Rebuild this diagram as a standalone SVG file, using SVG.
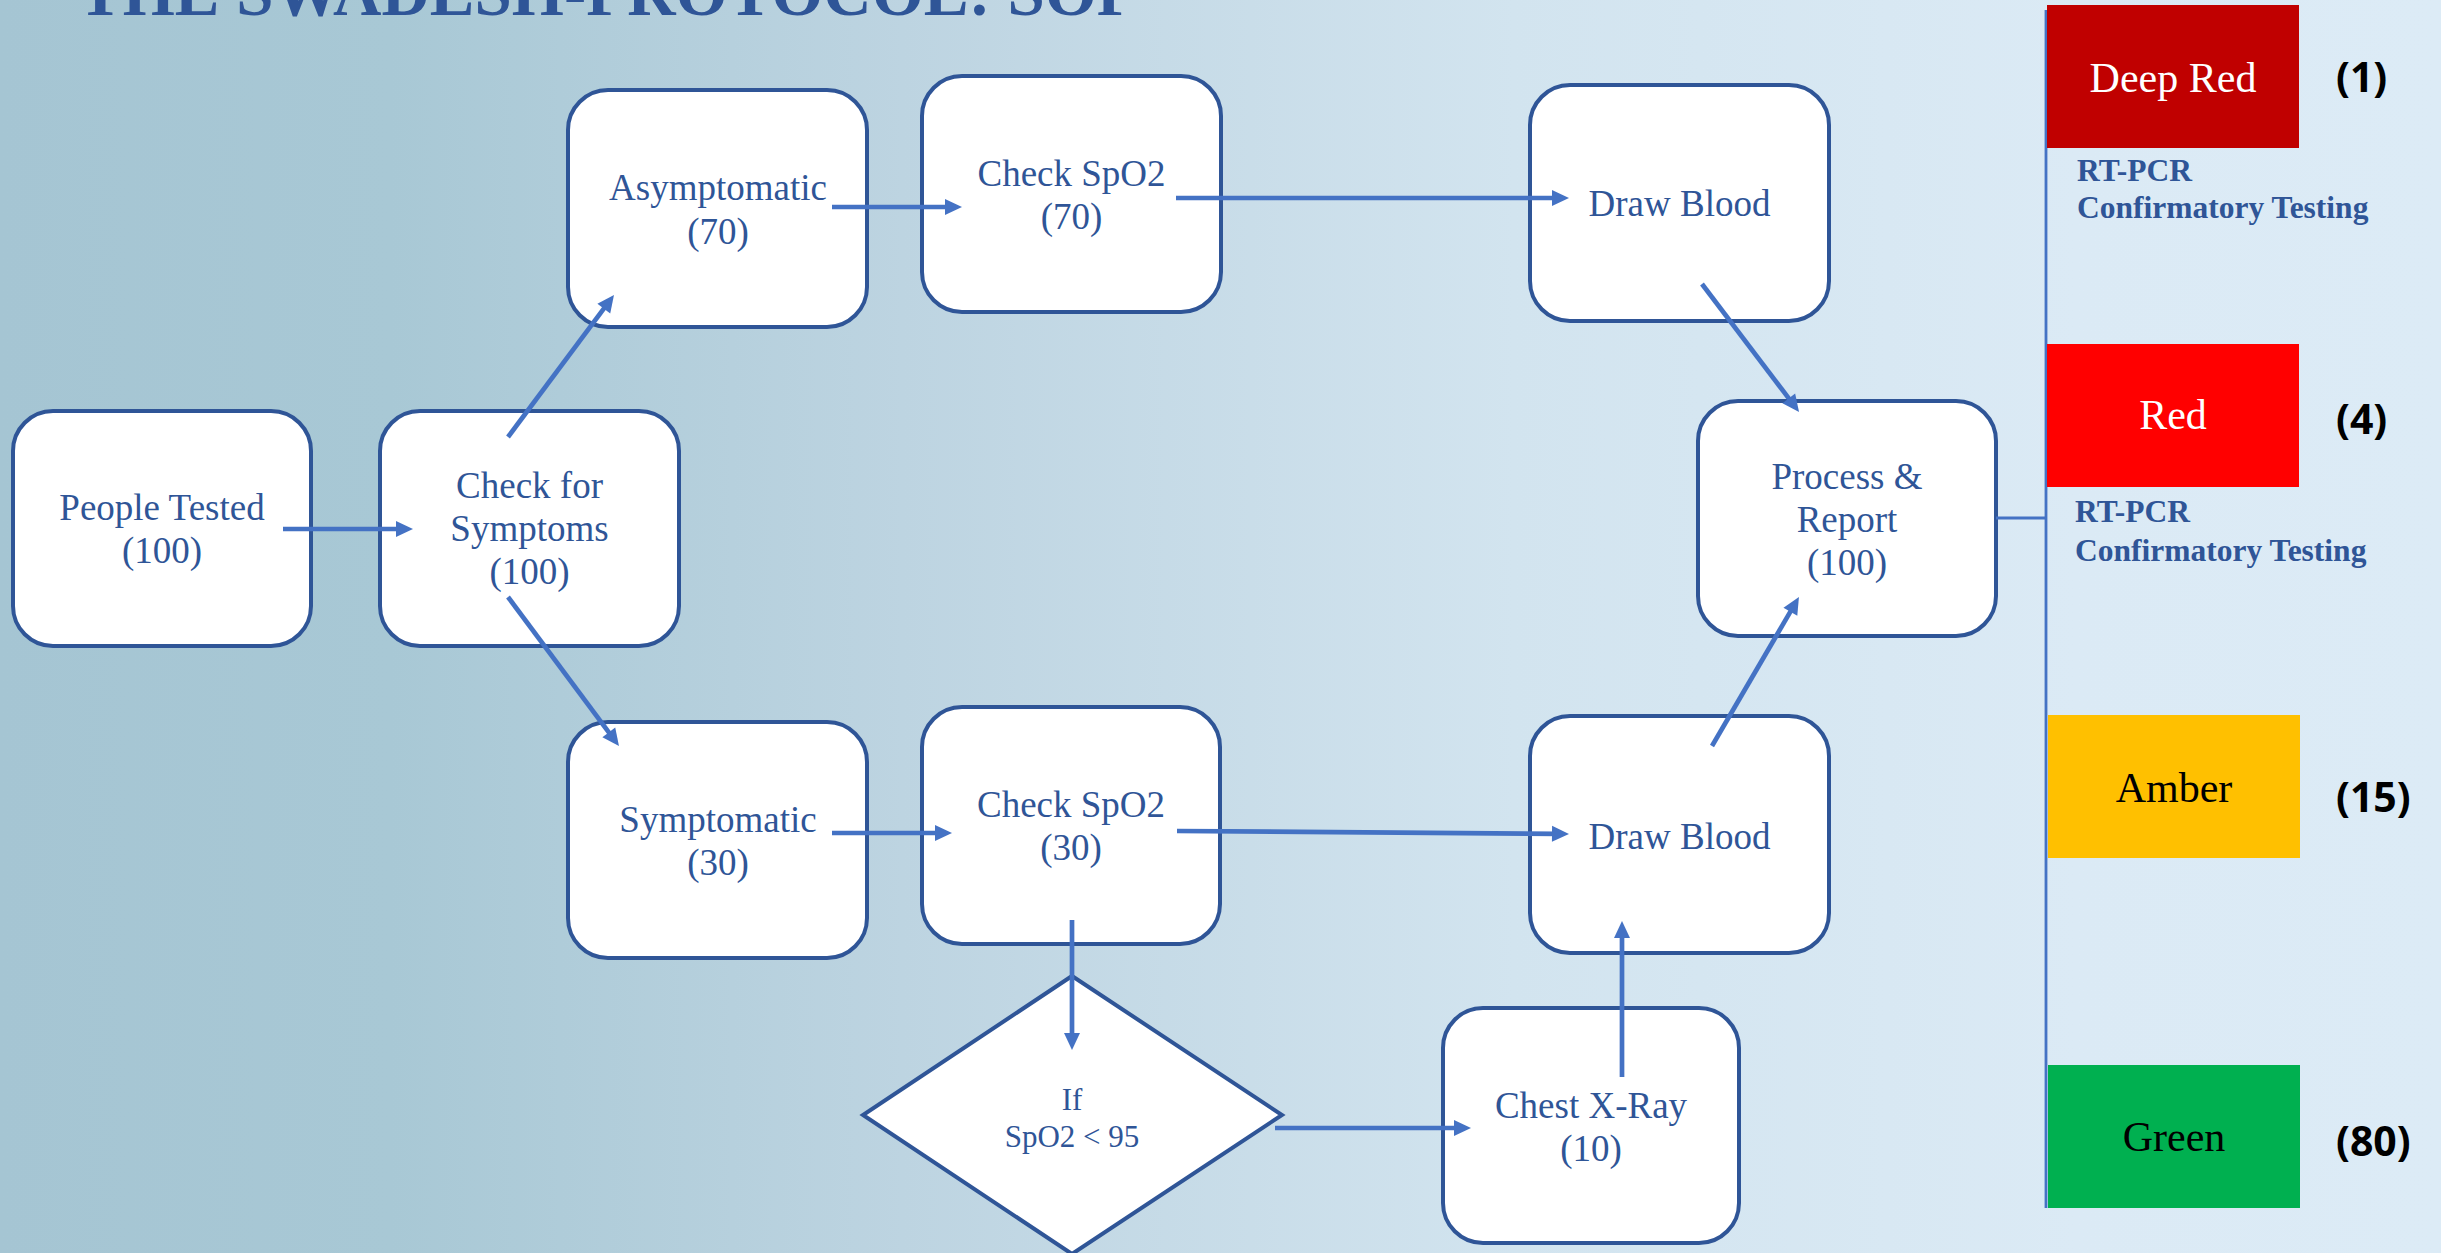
<svg xmlns="http://www.w3.org/2000/svg" width="2441" height="1253" viewBox="0 0 2441 1253">
  <defs>
    <linearGradient id="bg" x1="0" y1="0" x2="1" y2="0">
      <stop offset="0" stop-color="#a5c5d3"/>
      <stop offset="0.16" stop-color="#a8c8d5"/>
      <stop offset="0.37" stop-color="#bdd4e1"/>
      <stop offset="0.62" stop-color="#d2e4ef"/>
      <stop offset="0.85" stop-color="#dbeaf5"/>
      <stop offset="1" stop-color="#dcebf6"/>
    </linearGradient>
    <marker id="arr" markerUnits="userSpaceOnUse" markerWidth="18" markerHeight="16" refX="5" refY="8" orient="auto" overflow="visible">
      <path d="M0,0 L17,8 L0,16 Z" fill="#4472c4"/>
    </marker>
    <style>
      .box { fill: #ffffff; stroke: #2f5597; stroke-width: 4; }
      .lbl { font-family: "Liberation Serif", "Times New Roman", serif; font-size: 37px; fill: #2f5597; text-anchor: middle; }
      .dlbl { font-family: "Liberation Serif", "Times New Roman", serif; font-size: 31px; fill: #2f5597; text-anchor: middle; }
      .conn { stroke: #4472c4; stroke-width: 4.7; fill: none; marker-end: url(#arr); }
      .rail { stroke: #4472c4; stroke-width: 2.8; fill: none; }
      .sw { font-family: "Liberation Serif", "Times New Roman", serif; font-size: 42px; text-anchor: middle; }
      .cnt { font-family: "Open Sans", "Liberation Sans", sans-serif; font-size: 41px; font-weight: bold; fill: #000000; }
      .rt { font-family: "Liberation Serif", "Times New Roman", serif; font-size: 31.5px; font-weight: bold; fill: #2f5597; }
    </style>
  </defs>

  <rect x="0" y="0" width="2441" height="1253" fill="url(#bg)"/>

  <text x="78" y="15" font-family="Liberation Serif, Times New Roman, serif" font-size="67" font-weight="bold" fill="#2f5597">THE SWADESH-PROTOCOL: SOP</text>

  <g id="people-tested">
    <rect class="box" x="13" y="411" width="298" height="235" rx="40" ry="40"/>
    <text class="lbl" x="162" y="520">People Tested</text>
    <text class="lbl" x="162" y="563">(100)</text>
  </g>

  <g id="check-symptoms">
    <rect class="box" x="380" y="411" width="299" height="235" rx="40" ry="40"/>
    <text class="lbl" x="529.5" y="498">Check for</text>
    <text class="lbl" x="529.5" y="541">Symptoms</text>
    <text class="lbl" x="529.5" y="584">(100)</text>
  </g>

  <g id="asymptomatic">
    <rect class="box" x="568" y="90" width="299" height="237" rx="40" ry="40"/>
    <text class="lbl" x="718" y="200">Asymptomatic</text>
    <text class="lbl" x="718" y="244">(70)</text>
  </g>

  <g id="check-spo2-70">
    <rect class="box" x="922" y="76" width="299" height="236" rx="40" ry="40"/>
    <text class="lbl" x="1071.5" y="186">Check SpO2</text>
    <text class="lbl" x="1071.5" y="229">(70)</text>
  </g>

  <g id="draw-blood-top">
    <rect class="box" x="1530" y="85" width="299" height="236" rx="40" ry="40"/>
    <text class="lbl" x="1679.5" y="216">Draw Blood</text>
  </g>

  <g id="process-report">
    <rect class="box" x="1698" y="401" width="298" height="235" rx="40" ry="40"/>
    <text class="lbl" x="1847" y="489">Process &amp;</text>
    <text class="lbl" x="1847" y="532">Report</text>
    <text class="lbl" x="1847" y="575">(100)</text>
  </g>

  <g id="symptomatic">
    <rect class="box" x="568" y="722" width="299" height="236" rx="40" ry="40"/>
    <text class="lbl" x="718" y="832">Symptomatic</text>
    <text class="lbl" x="718" y="875">(30)</text>
  </g>

  <g id="check-spo2-30">
    <rect class="box" x="922" y="707" width="298" height="237" rx="40" ry="40"/>
    <text class="lbl" x="1071" y="817">Check SpO2</text>
    <text class="lbl" x="1071" y="860">(30)</text>
  </g>

  <g id="draw-blood-bottom">
    <rect class="box" x="1530" y="716" width="299" height="237" rx="40" ry="40"/>
    <text class="lbl" x="1679.5" y="849">Draw Blood</text>
  </g>

  <g id="spo2-decision">
    <polygon class="box" points="1072,976 1282,1115 1072,1254 863,1115"/>
    <text class="dlbl" x="1072" y="1110">If</text>
    <text class="dlbl" x="1072" y="1147">SpO2 &lt; 95</text>
  </g>

  <g id="chest-xray">
    <rect class="box" x="1443" y="1008" width="296" height="235" rx="40" ry="40"/>
    <text class="lbl" x="1591" y="1118">Chest X-Ray</text>
    <text class="lbl" x="1591" y="1161">(10)</text>
  </g>

  <g id="connectors">
    <line class="conn" x1="283" y1="529" x2="401" y2="529"/>
    <line class="conn" x1="508" y1="437" x2="606.8" y2="304.6"/>
    <line class="conn" x1="508" y1="597" x2="611.8" y2="736.4"/>
    <line class="conn" x1="832" y1="207" x2="950" y2="207"/>
    <line class="conn" x1="1176" y1="198" x2="1557" y2="198"/>
    <line class="conn" x1="1702" y1="284" x2="1791.8" y2="402.4"/>
    <line class="conn" x1="832" y1="833" x2="940" y2="833"/>
    <line class="conn" x1="1177" y1="831" x2="1557" y2="833.9"/>
    <line class="conn" x1="1072" y1="920" x2="1072" y2="1038"/>
    <line class="conn" x1="1275" y1="1128" x2="1459" y2="1128"/>
    <line class="conn" x1="1622" y1="1077" x2="1622" y2="933"/>
    <line class="conn" x1="1712" y1="746" x2="1792.9" y2="607.4"/>
    <line class="rail" x1="1996" y1="518" x2="2046" y2="518"/>
    <line class="rail" x1="2046" y1="10" x2="2046" y2="1208"/>
  </g>

  <g id="deep-red">
    <rect x="2047" y="5" width="252" height="143" fill="#c00000"/>
    <text class="sw" x="2173" y="92" fill="#ffffff">Deep Red</text>
    <text class="cnt" x="2336" y="92">(1)</text>
    <text class="rt" x="2077" y="181">RT-PCR</text>
    <text class="rt" x="2077" y="218">Confirmatory Testing</text>
  </g>

  <g id="red">
    <rect x="2047" y="344" width="252" height="143" fill="#ff0000"/>
    <text class="sw" x="2173" y="429" fill="#ffffff">Red</text>
    <text class="cnt" x="2336" y="434">(4)</text>
    <text class="rt" x="2075" y="522">RT-PCR</text>
    <text class="rt" x="2075" y="561">Confirmatory Testing</text>
  </g>

  <g id="amber">
    <rect x="2048" y="715" width="252" height="143" fill="#ffc000"/>
    <text class="sw" x="2174" y="802" fill="#000000">Amber</text>
    <text class="cnt" x="2336" y="812">(15)</text>
  </g>

  <g id="green">
    <rect x="2048" y="1065" width="252" height="143" fill="#00b050"/>
    <text class="sw" x="2174" y="1151" fill="#000000">Green</text>
    <text class="cnt" x="2336" y="1156">(80)</text>
  </g>
</svg>
